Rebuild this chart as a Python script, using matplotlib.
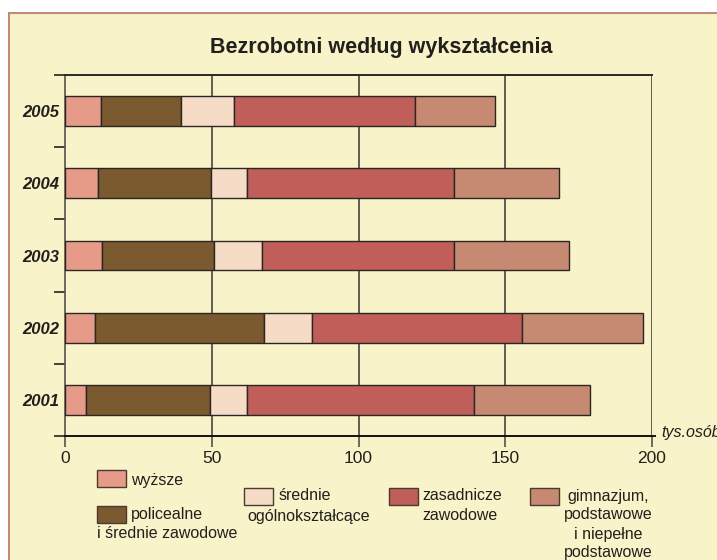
import numpy as np
import matplotlib.pyplot as plt
from matplotlib.patches import Rectangle

# ============================================================
# Data (tys. osób)
# ============================================================
years = ["2001", "2002", "2003", "2004", "2005"]
wyzsze = [7.3, 10.2, 12.5, 11.1, 12.4]
policealne = [42.2, 57.5, 38.2, 38.6, 27.0]
srednie = [12.4, 16.5, 16.5, 12.2, 18.2]
zasadnicze = [77.4, 71.5, 65.2, 70.5, 61.7]
gimnazjum = [39.6, 41.3, 39.3, 35.8, 27.1]

series = [wyzsze, policealne, srednie, zasadnicze, gimnazjum]
colors = ["#E69B89", "#7A5A2E", "#F6DCC6", "#C05E5A", "#C68A72"]

# ============================================================
# Style
# ============================================================
W, H = 717, 560
BG = "#F8F3C9"
TXT = "#231F1C"
GRID = "#55534A"

plt.rcParams["font.family"] = ["Liberation Sans", "DejaVu Sans"]

fig = plt.figure(figsize=(W / 100, H / 100), dpi=100, facecolor="white")


def fx(x):
    return x / W


def fy(y):
    return 1 - y / H


# cream panel with thin border
fig.add_artist(Rectangle((fx(9), -0.1), 1.2, fy(13) + 0.1,
                         transform=fig.transFigure, facecolor=BG,
                         edgecolor="#C3897A", lw=1.5, zorder=-10))

ax = fig.add_axes([fx(65), fy(436), fx(652) - fx(65), fy(75) - fy(436)])
ax.set_facecolor(BG)

y = np.arange(len(years))
left = np.zeros(len(years))
for vals, col in zip(series, colors):
    ax.barh(y, vals, left=left, height=0.41, color=col,
            edgecolor="#2B2622", linewidth=1.0, zorder=3)
    left += np.array(vals)

ax.set_xlim(0, 200)
ax.set_ylim(-0.5, 4.5)

# vertical grid lines
for gx in [50, 100, 150, 200]:
    ax.axvline(gx, color=GRID, lw=1.3, zorder=1)

ax.set_xticks([0, 50, 100, 150, 200])
ax.tick_params(axis="x", length=8, width=1.2, color=GRID, labelsize=12.5,
               labelcolor=TXT, pad=3)

ax.set_yticks(y)
ax.set_yticklabels(years, fontsize=12, fontweight="bold", fontstyle="italic",
                   color=TXT)
ax.tick_params(axis="y", length=0, pad=4)
ax.set_yticks(np.arange(-0.5, 5, 1), minor=True)
ax.tick_params(axis="y", which="minor", length=8, width=1.2, color="#222")

ax.spines["right"].set_visible(False)
ax.spines["top"].set_color("#2A2A26")
ax.spines["top"].set_linewidth(1.4)
ax.spines["left"].set_color(GRID)
ax.spines["left"].set_linewidth(1.2)
ax.spines["bottom"].set_color("#111")
ax.spines["bottom"].set_linewidth(1.4)
ax.spines["bottom"].set_bounds(0, 201)

fig.text(fx(381), fy(47), "Bezrobotni według wykształcenia", ha="center",
         va="center", fontsize=15.5, fontweight="bold", color=TXT)
fig.text(fx(661), fy(432), "tys.osób", ha="left", va="center",
         fontsize=11.5, fontstyle="italic", color=TXT)

# ============================================================
# Legend (hand placed)
# ============================================================
PW, PH = 29, 17
legend_items = [
    (97, 470, colors[0], [(131, 480, "wyższe", "left")]),
    (97, 506, colors[1], [(131, 514, "policealne", "left"),
                          (97, 534, "i średnie zawodowe", "left")]),
    (244, 488, colors[2], [(279, 496, "średnie", "left"),
                           (247, 516, "ogólnokształcące", "left")]),
    (389, 488, colors[3], [(422, 496, "zasadnicze", "left"),
                           (422, 515, "zawodowe", "left")]),
    (530, 488, colors[4], [(608, 496, "gimnazjum,", "center"),
                           (608, 515, "podstawowe", "center"),
                           (608, 534, "i niepełne", "center"),
                           (608, 552, "podstawowe", "center")]),
]

for px, py, col, lines in legend_items:
    fig.add_artist(Rectangle((fx(px), fy(py + PH)), PW / W, PH / H,
                             transform=fig.transFigure, facecolor=col,
                             edgecolor="#4A3A30", lw=1.0))
    for tx, ty, s, ha in lines:
        fig.text(fx(tx), fy(ty), s, ha=ha, va="center", fontsize=11.5,
                 color=TXT)

fig.savefig("out.png", dpi=100, facecolor=fig.get_facecolor())
